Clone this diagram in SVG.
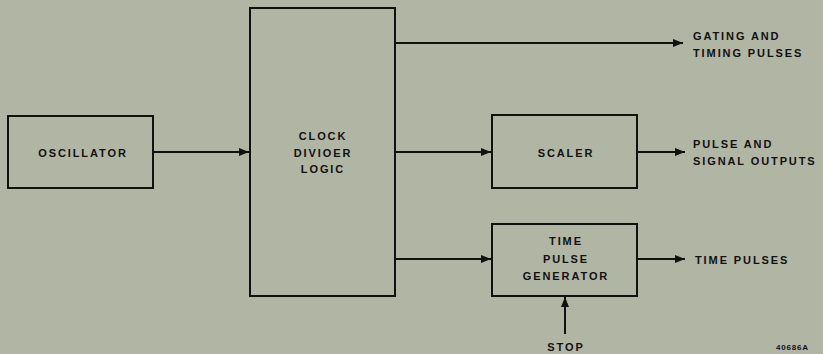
<svg xmlns="http://www.w3.org/2000/svg" width="823" height="354" viewBox="0 0 823 354">
<style>
.box{fill:none;stroke:#111;stroke-width:2}
.ln{fill:none;stroke:#111;stroke-width:2;marker-end:url(#ah)}
text{font-family:"Liberation Sans",Arial,sans-serif;font-weight:bold;font-size:11px;fill:#111;letter-spacing:1.9px}
.c{text-anchor:middle}
</style>
<defs>
<marker id="ah" viewBox="0 0 10 8" refX="10" refY="4" markerWidth="5" markerHeight="4" orient="auto" markerUnits="strokeWidth">
<path d="M0,0 L10,4 L0,8 Z" fill="#111"/>
</marker>
</defs>
<rect width="823" height="354" fill="#b1b5a4"/>
<g id="connectors">
<line class="ln" x1="153" y1="152" x2="249" y2="152"/>
<line class="ln" x1="395" y1="43" x2="683" y2="43"/>
<line class="ln" x1="395" y1="152" x2="491" y2="152"/>
<line class="ln" x1="395" y1="259" x2="491" y2="259"/>
<line class="ln" x1="637" y1="152" x2="685" y2="152"/>
<line class="ln" x1="637" y1="259" x2="685" y2="259"/>
<line class="ln" x1="565" y1="334" x2="565" y2="297"/>
</g>
<g id="oscillator">
<rect class="box" x="8" y="116" width="145" height="72"/>
<text class="c" x="83" y="157">OSCILLATOR</text>
</g>
<g id="clock">
<rect class="box" x="250" y="8" width="145" height="288"/>
<text class="c" x="323" y="140">CLOCK</text>
<text class="c" x="323" y="157">DIVIOER</text>
<text class="c" x="323" y="173">LOGIC</text>
</g>
<g id="scaler">
<rect class="box" x="492" y="115" width="145" height="73"/>
<text class="c" x="566" y="157">SCALER</text>
</g>
<g id="timepulse">
<rect class="box" x="492" y="224" width="145" height="72"/>
<text class="c" x="566" y="245">TIME</text>
<text class="c" x="566" y="263">PULSE</text>
<text class="c" x="566" y="280">GENERATOR</text>
</g>
<g id="labels">
<text x="693" y="40">GATING AND</text>
<text x="693" y="57">TIMING PULSES</text>
<text x="693" y="148">PULSE AND</text>
<text x="693" y="165">SIGNAL OUTPUTS</text>
<text x="695" y="264">TIME PULSES</text>
<text class="c" x="566" y="351">STOP</text>
<text x="776" y="350" style="font-size:8px;letter-spacing:0.8px">40686A</text>
</g>
</svg>
